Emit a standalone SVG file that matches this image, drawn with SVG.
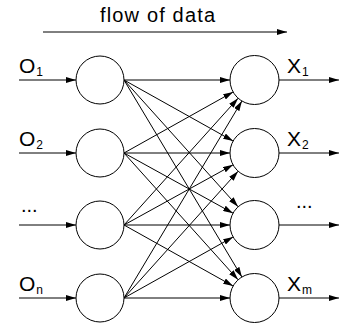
<svg xmlns="http://www.w3.org/2000/svg" width="342" height="326" viewBox="0 0 342 326">
<defs>
<marker id="ah" markerUnits="userSpaceOnUse" viewBox="0 0 10 6" refX="10" refY="3" markerWidth="10" markerHeight="6" orient="auto">
<path d="M0,0 L10,3 L0,6 z" fill="#000"/>
</marker>
<style>
.n{fill:#fff;stroke:#000;stroke-width:1}
.c line{stroke:#000;stroke-width:1;marker-end:url(#ah)}
.t{font-family:"Liberation Sans",Arial,sans-serif;font-size:20px;fill:#000}
.l{font-size:21px}
.s{font-size:12px}
</style>
</defs>
<rect width="342" height="326" fill="#fff"/>
<g id="flow">
<text class="t" x="100" y="22" textLength="115" lengthAdjust="spacing">flow of data</text>
</g>
<g class="c" id="connectors">
<line x1="43" y1="32" x2="287" y2="32"/>
<line x1="19" y1="80" x2="76" y2="80"/>
<line x1="19" y1="153" x2="76" y2="153"/>
<line x1="19" y1="225" x2="76" y2="225"/>
<line x1="19" y1="298" x2="76" y2="298"/>
<line x1="279" y1="80" x2="339" y2="80"/>
<line x1="279" y1="153" x2="339" y2="153"/>
<line x1="279" y1="225" x2="339" y2="225"/>
<line x1="279" y1="298" x2="339" y2="298"/>
<line x1="124" y1="80" x2="230" y2="80"/>
<line x1="124" y1="80" x2="233.12" y2="141.04"/>
<line x1="124" y1="80" x2="238.11" y2="206.79"/>
<line x1="124" y1="80" x2="241.92" y2="276.98"/>
<line x1="124" y1="153" x2="233.12" y2="91.96"/>
<line x1="124" y1="153" x2="230" y2="153"/>
<line x1="124" y1="153" x2="233.05" y2="213.16"/>
<line x1="124" y1="153" x2="238.11" y2="279.79"/>
<line x1="124" y1="225" x2="238.11" y2="98.21"/>
<line x1="124" y1="225" x2="233.05" y2="164.84"/>
<line x1="124" y1="225" x2="230" y2="225"/>
<line x1="124" y1="225" x2="233.12" y2="286.04"/>
<line x1="124" y1="298" x2="241.92" y2="101.02"/>
<line x1="124" y1="298" x2="238.11" y2="171.21"/>
<line x1="124" y1="298" x2="233.12" y2="236.96"/>
<line x1="124" y1="298" x2="230" y2="298"/>
</g>
<g id="in1"><circle class="n" cx="100" cy="80" r="24"/></g>
<g id="in2"><circle class="n" cx="100" cy="153" r="24"/></g>
<g id="in3"><circle class="n" cx="100" cy="225" r="24"/></g>
<g id="in4"><circle class="n" cx="100" cy="298" r="24"/></g>
<g id="out1"><circle class="n" cx="254.5" cy="80" r="24.5"/></g>
<g id="out2"><circle class="n" cx="254.5" cy="153" r="24.5"/></g>
<g id="out3"><circle class="n" cx="254.5" cy="225" r="24.5"/></g>
<g id="out4"><circle class="n" cx="254.5" cy="298" r="24.5"/></g>
<g id="labels">
<text class="t l" x="19" y="73">O<tspan class="s" dx="1" dy="3">1</tspan></text>
<text class="t l" x="19" y="146">O<tspan class="s" dx="1" dy="3">2</tspan></text>
<text class="t" x="21" y="212">...</text>
<text class="t l" x="19" y="291">O<tspan class="s" dx="1" dy="3">n</tspan></text>
<text class="t l" x="287" y="73">X<tspan class="s" dx="1" dy="3">1</tspan></text>
<text class="t l" x="287" y="146">X<tspan class="s" dx="1" dy="3">2</tspan></text>
<text class="t" x="296" y="208">...</text>
<text class="t l" x="287" y="291">X<tspan class="s" dx="1" dy="3">m</tspan></text>
</g>
</svg>
